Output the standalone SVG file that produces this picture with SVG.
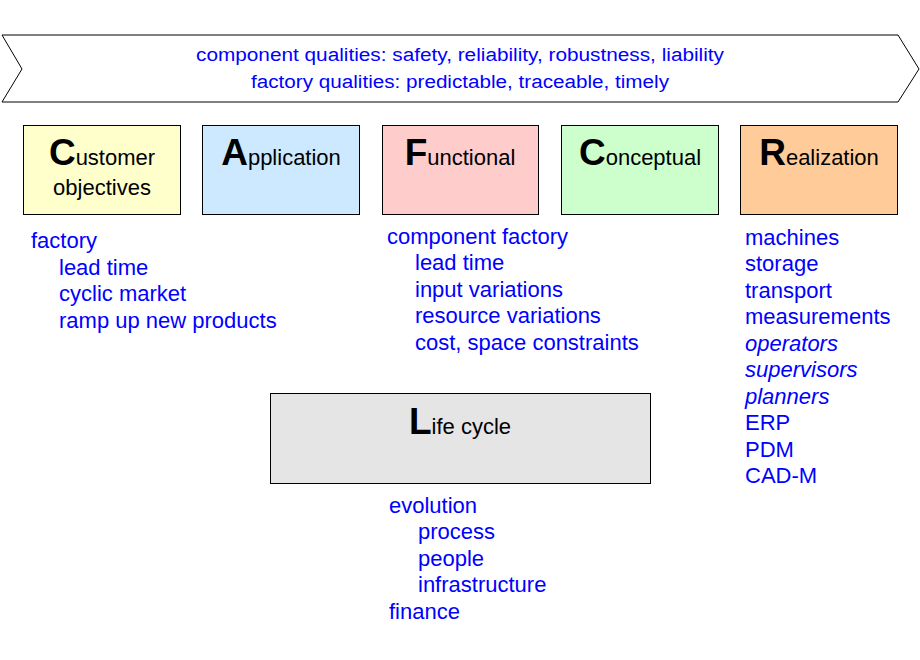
<svg xmlns="http://www.w3.org/2000/svg" width="920" height="660" viewBox="0 0 920 660">
<style>
.box{stroke:#000;stroke-width:1}
.t{font-family:"Liberation Sans",Arial,sans-serif;font-size:22px;fill:#000;text-anchor:middle}
.big{font-size:37px;font-weight:bold}
.l{font-family:"Liberation Sans",Arial,sans-serif;font-size:22px;fill:#0000FF}
.it{font-style:italic}
.hdr{font-family:"Liberation Sans",Arial,sans-serif;font-size:18px;fill:#0000FF;text-anchor:middle}
</style>
<rect width="920" height="660" fill="#fff"/>
<g id="banner">
<polygon points="2,35 898,35 919,69 898,102 2,102 22,69" fill="#fff" stroke="#000" stroke-width="1"/>
<text class="hdr" x="460" y="61" textLength="528" lengthAdjust="spacingAndGlyphs">component qualities: safety, reliability, robustness, liability</text>
<text class="hdr" x="460" y="88" textLength="418" lengthAdjust="spacingAndGlyphs">factory qualities: predictable, traceable, timely</text>
</g>
<g id="customer">
<rect class="box" x="23.5" y="125.5" width="157" height="89" fill="#FFFFCC"/>
<text class="t" x="102" y="165"><tspan class="big">C</tspan>ustomer</text>
<text class="t" x="102" y="195">objectives</text>
<g class="l"><text x="31" y="248">factory</text>
<text x="59" y="274.5">lead time</text>
<text x="59" y="301">cyclic market</text>
<text x="59" y="327.5">ramp up new products</text></g>
</g>
<g id="application">
<rect class="box" x="202.5" y="125.5" width="157" height="89" fill="#CCE9FF"/>
<text class="t" x="281" y="165"><tspan class="big">A</tspan>pplication</text>
</g>
<g id="functional">
<rect class="box" x="382.5" y="125.5" width="156" height="89" fill="#FFCCCC"/>
<text class="t" x="460" y="165"><tspan class="big">F</tspan>unctional</text>
<g class="l"><text x="387" y="243.5">component factory</text>
<text x="415" y="270">lead time</text>
<text x="415" y="296.5">input variations</text>
<text x="415" y="323">resource variations</text>
<text x="415" y="349.5">cost, space constraints</text></g>
</g>
<g id="conceptual">
<rect class="box" x="561.5" y="125.5" width="157" height="89" fill="#CCFFCC"/>
<text class="t" x="640" y="165"><tspan class="big">C</tspan>onceptual</text>
</g>
<g id="realization">
<rect class="box" x="740.5" y="125.5" width="157" height="89" fill="#FFCC99"/>
<text class="t" x="819" y="165"><tspan class="big">R</tspan>ealization</text>
<g class="l"><text x="745" y="244.5">machines</text>
<text x="745" y="271">storage</text>
<text x="745" y="297.5">transport</text>
<text x="745" y="324">measurements</text>
<text class="it" x="745" y="350.5">operators</text>
<text class="it" x="745" y="377">supervisors</text>
<text class="it" x="745" y="403.5">planners</text>
<text x="745" y="430">ERP</text>
<text x="745" y="456.5">PDM</text>
<text x="745" y="483">CAD-M</text></g>
</g>
<g id="lifecycle">
<rect class="box" x="270.5" y="393.5" width="380" height="90" fill="#E5E5E5"/>
<text class="t" x="460" y="434"><tspan class="big">L</tspan>ife cycle</text>
<g class="l"><text x="389" y="512.5">evolution</text>
<text x="418" y="539">process</text>
<text x="418" y="565.5">people</text>
<text x="418" y="592">infrastructure</text>
<text x="389" y="618.5">finance</text></g>
</g>
<g id="connectors"></g>
</svg>
